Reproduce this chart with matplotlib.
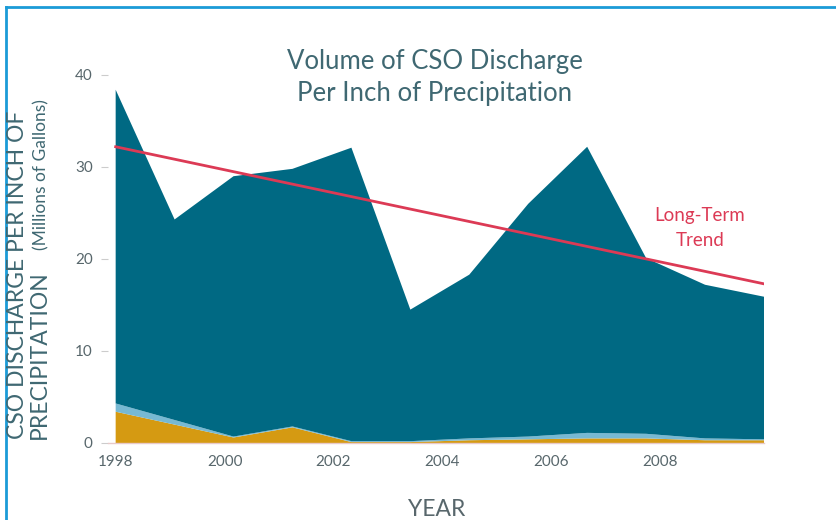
import numpy as np
import matplotlib.pyplot as plt
from matplotlib.lines import Line2D

years = [1998, 1999, 2000, 2001, 2002, 2003, 2004, 2005, 2006, 2007, 2008, 2009]
# stacked components (millions of gallons per inch of precipitation)
gold = [3.4, 2.0, 0.6, 1.7, 0.1, 0.1, 0.3, 0.4, 0.5, 0.5, 0.3, 0.3]
light = [0.9, 0.5, 0.1, 0.1, 0.1, 0.1, 0.2, 0.3, 0.6, 0.5, 0.2, 0.1]
total = [38.4, 24.3, 29.0, 29.8, 32.1, 14.5, 18.3, 26.0, 32.2, 20.1, 17.2, 15.9]
trend_ends = [32.2, 17.3]
tick_labels = ["1998", "2000", "2002", "2004", "2006", "2008"]
yticks = [0, 10, 20, 30, 40]

plt.rcParams['font.family'] = ['Lato', 'DejaVu Sans']

teal_c = "#006983"
gold_c = "#d59a12"
light_c = "#77b9d3"
red_c = "#dc3a55"
text_c = "#3f6872"
gray_c = "#58676c"

fig = plt.figure(figsize=(8.37, 5.2), dpi=100)
ax = fig.add_axes([108 / 837, 77 / 520, 656 / 837, 368 / 520])

g = np.array(gold)
l = np.array(light)
t = np.array(total)
ax.stackplot(years, g, l, t - g - l, colors=[gold_c, light_c, teal_c], linewidth=0)
ax.plot([years[0], years[-1]], trend_ends, color=red_c, lw=2)

ax.set_xlim(1997.87, 2009)
ax.set_ylim(0, 40)

# the printed year labels sit slightly tighter than the data spacing
lab_years = np.array([int(s) for s in tick_labels])
ax.set_xticks(1998 + (lab_years - 1998) * 0.924)
ax.set_xticklabels(tick_labels, fontsize=11, color=gray_c)
ax.set_yticks(yticks)
ax.set_yticklabels([str(v) for v in yticks], fontsize=11, color=gray_c)
ax.tick_params(axis='x', length=0, pad=9)
ax.tick_params(axis='y', length=5, color="#cccccc", pad=6)
for s in ['top', 'right', 'left']:
    ax.spines[s].set_visible(False)
ax.spines['bottom'].set_color("#e8c9c9")
ax.spines['bottom'].set_linewidth(1)

fig.text(435 / 837, 1 - 78 / 520, "Volume of CSO Discharge\nPer Inch of Precipitation",
         ha='center', va='center', fontsize=18.5, color=text_c, linespacing=1.35)
fig.text(700 / 837, 1 - 228 / 520, "Long-Term\nTrend", ha='center', va='center',
         fontsize=13.5, color=red_c, linespacing=1.6)
fig.text(437 / 837, 1 - 510 / 520, "YEAR", ha='center', va='center', fontsize=16.5, color=gray_c)

fig.text(18 / 837, 1 - 439 / 520, "CSO DISCHARGE PER INCH OF", rotation=90,
         ha='center', va='bottom', fontsize=16.5, color=text_c)
fig.text(39 / 837, 1 - 439 / 520, "PRECIPITATION", rotation=90,
         ha='center', va='bottom', fontsize=16.5, color=text_c)
fig.text(41 / 837, 1 - 250 / 520, "(Millions of Gallons)", rotation=90,
         ha='center', va='bottom', fontsize=12.5, color=text_c)

# frame lines of the original graphic
fig.add_artist(Line2D([6 / 837, 1], [1 - 7 / 520, 1 - 7 / 520], color="#1b9bd7", lw=2))
fig.add_artist(Line2D([6 / 837, 6 / 837], [0, 1 - 7 / 520], color="#1b9bd7", lw=2))

fig.savefig("out.png", dpi=100)
